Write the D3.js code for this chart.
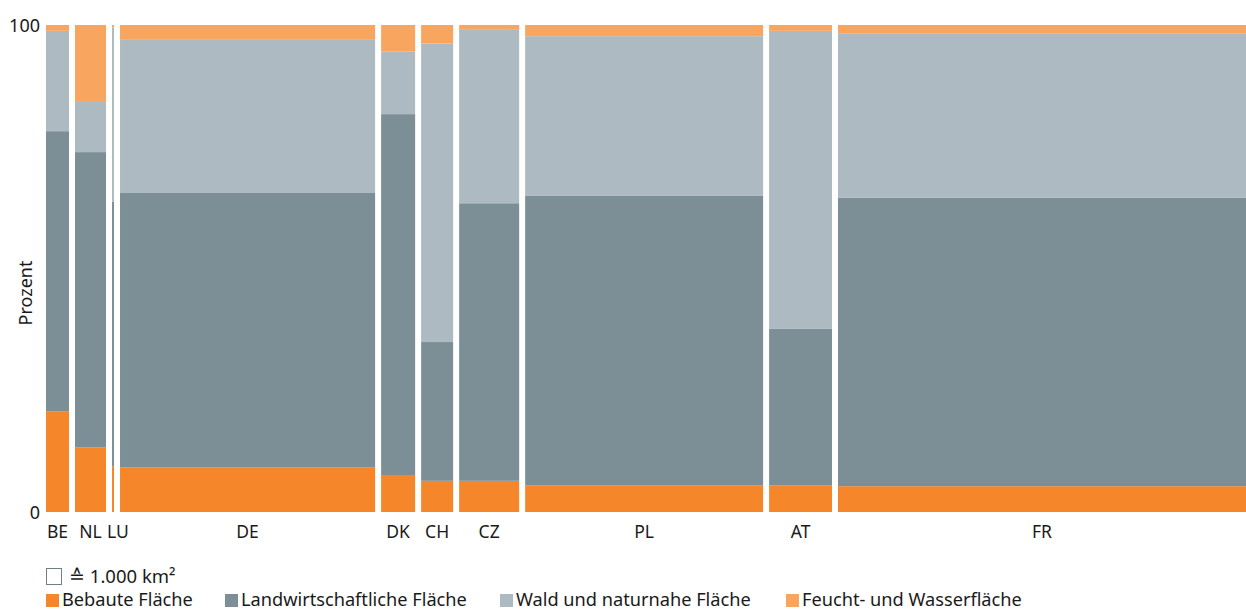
<!DOCTYPE html>
<html>
<head>
<meta charset="utf-8">
<script src="https://cdn.jsdelivr.net/npm/d3@7"></script>
<style>
  body { margin: 0; background: #fff; }
  text { font-family: "Noto Sans", sans-serif; fill: #1a1a1a; }
</style>
</head>
<body>
<div id="chart"></div>
<script>
// Länder und Fläche (Tsd. km²), Breite der Säulen
var countries = ["BE", "NL", "LU", "DE", "DK", "CH", "CZ", "PL", "AT", "FR"];
var areas     = [32.2, 43.4, 2.8, 357, 47.6, 44.8, 84, 333, 88, 571];

// Anteile in Prozent, von unten nach oben
var bebaut    = [20.7, 13.3,  9.4,  9.2,  7.6,  6.4,  6.4,  5.5,  5.5,  5.3];
var landwirt  = [57.5, 60.6, 54.3, 56.3, 74.1, 28.5, 57.0, 59.4, 32.1, 59.2];
var wald      = [20.6, 10.3, 35.8, 31.6, 12.9, 61.3, 35.6, 32.8, 61.2, 33.7];
var wasser    = [ 1.2, 15.8,  0.5,  2.9,  5.4,  3.8,  1.0,  2.3,  1.2,  1.8];

var seriesNames = ["Bebaute Fläche", "Landwirtschaftliche Fläche", "Wald und naturnahe Fläche", "Feucht- und Wasserfläche"];
var colors = ["#f5862a", "#7d8f96", "#adbac1", "#f8a55f"];
var yTicks = [0, 100];

var width = 1246, height = 610;
var plotLeft = 46, plotRight = 1246, plotTop = 25, plotBottom = 512;
var gap = 6;

var svg = d3.select("#chart").append("svg")
  .attr("width", width)
  .attr("height", height);

var values = [bebaut, landwirt, wald, wasser];

// x-Positionen aus den Flächen
var total = d3.sum(areas);
var x = d3.scaleLinear()
  .domain([0, total])
  .range([0, plotRight - plotLeft - gap * (countries.length - 1)]);

var starts = [];
var acc = 0;
countries.forEach(function(c, i) {
  starts.push(plotLeft + x(acc) + i * gap);
  acc += areas[i];
});

var y = d3.scaleLinear().domain([0, 100]).range([plotBottom, plotTop]);

var data = countries.map(function(c, i) {
  var cum = 0;
  var segs = values.map(function(v, k) {
    var s = { key: k, y0: cum, y1: cum + v[i] };
    cum += v[i];
    return s;
  });
  return { country: c, x0: starts[i], w: x(areas[i]), segs: segs };
});

var groups = svg.selectAll("g.country")
  .data(data)
  .enter().append("g")
  .attr("class", "country");

groups.selectAll("rect")
  .data(function(d) { return d.segs.map(function(s) { return { d: d, s: s }; }); })
  .enter().append("rect")
  .attr("x", function(e) { return e.d.x0; })
  .attr("width", function(e) { return e.d.w; })
  .attr("y", function(e) { return y(e.s.y1); })
  .attr("height", function(e) { return y(e.s.y0) - y(e.s.y1); })
  .attr("fill", function(e) { return colors[e.s.key]; });

// Länderkürzel (LU ist zu schmal, etwas nach rechts schieben)
groups.append("text")
  .attr("x", function(d) { return d.x0 + d.w / 2 + (d.country == "LU" ? 5 : 0); })
  .attr("y", 538)
  .attr("text-anchor", "middle")
  .style("font-size", "17.5px")
  .text(function(d) { return d.country; });

// y-Achse: nur 0 und 100
svg.selectAll("text.ytick")
  .data(yTicks)
  .enter().append("text")
  .attr("class", "ytick")
  .attr("x", 40)
  .attr("y", function(d) { return y(d) + 7; })
  .attr("text-anchor", "end")
  .style("font-size", "18px")
  .text(function(d) { return d; });

svg.append("text")
  .attr("transform", "translate(32,293) rotate(-90)")
  .attr("text-anchor", "middle")
  .style("font-size", "18px")
  .text("Prozent");

// Massstab
svg.append("rect")
  .attr("x", 46.5).attr("y", 568.5)
  .attr("width", 15).attr("height", 16)
  .attr("fill", "none")
  .attr("stroke", "#6f7f86")
  .attr("stroke-width", 1);

svg.append("text")
  .attr("x", 69).attr("y", 583)
  .style("font-size", "18.5px")
  .text("≙ 1.000 km²");

// Legende
var legendX = [46, 225, 500, 786];
var legend = svg.selectAll("g.legend")
  .data(seriesNames)
  .enter().append("g")
  .attr("class", "legend")
  .attr("transform", function(d, i) { return "translate(" + legendX[i] + ",594)"; });

legend.append("rect")
  .attr("width", 13).attr("height", 13)
  .attr("fill", function(d, i) { return colors[i]; });

legend.append("text")
  .attr("x", 16).attr("y", 12)
  .style("font-size", "18.2px")
  .text(function(d) { return d; });
</script>
</body>
</html>
